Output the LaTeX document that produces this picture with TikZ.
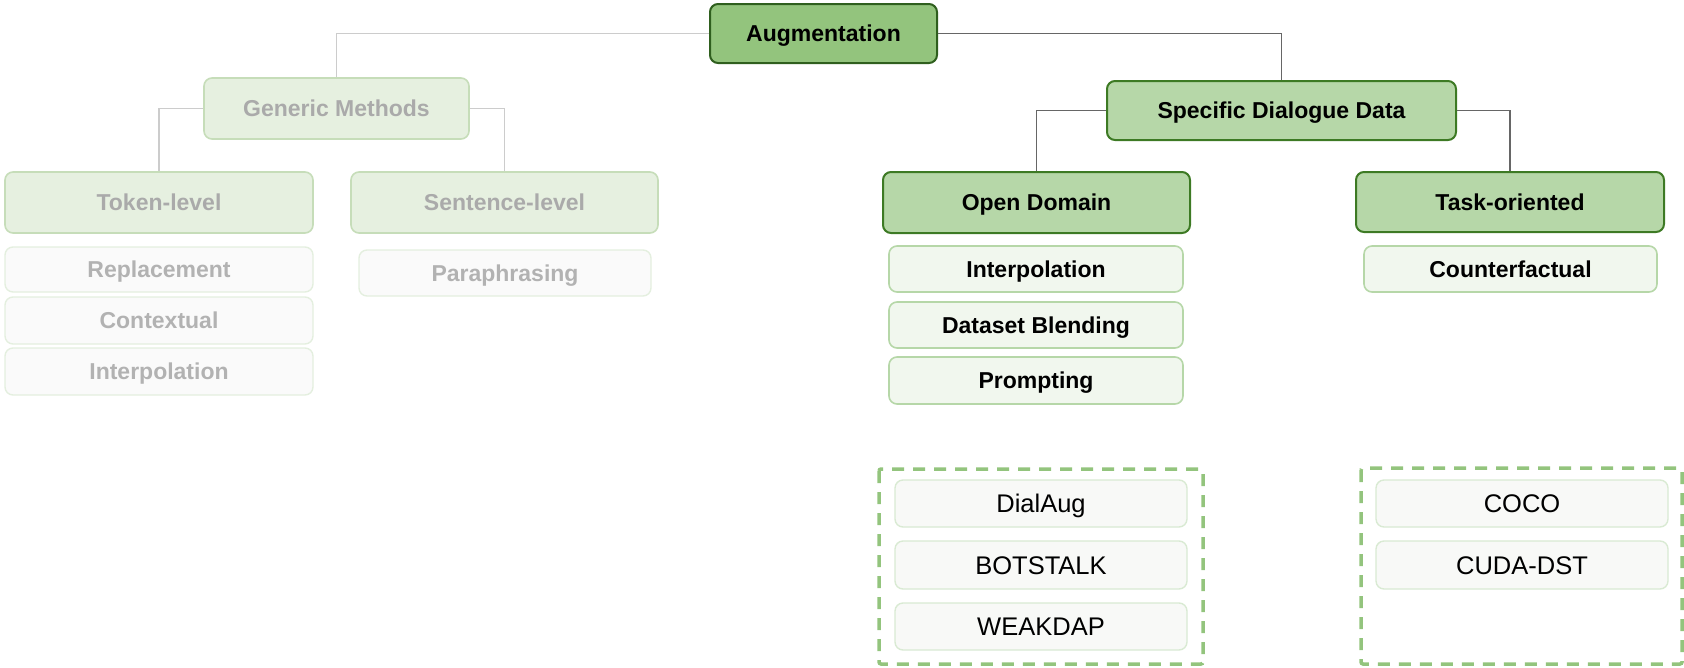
\documentclass[tikz,border=0pt]{standalone}
\usepackage{fontspec}
\setmainfont{Liberation Sans}
\usetikzlibrary{positioning}
\definecolor{augfill}{HTML}{93C47D}
\definecolor{augdraw}{HTML}{2F5F1E}
\definecolor{midfill}{HTML}{B6D7A8}
\definecolor{middraw}{HTML}{3D7A24}
\definecolor{subfill}{HTML}{F1F7EE}
\definecolor{subdraw}{HTML}{B6D7A8}
\definecolor{fadefill}{HTML}{E6F0E0}
\definecolor{fadedraw}{HTML}{C6DDB9}
\definecolor{fadetext}{HTML}{AAAAAA}
\definecolor{palefill}{HTML}{FAFAFA}
\definecolor{paledraw}{HTML}{E4EFDF}
\definecolor{datafill}{HTML}{F8F9F7}
\definecolor{datadraw}{HTML}{D9EAD3}
\definecolor{dashcol}{HTML}{93C47D}
\definecolor{lightline}{HTML}{CCCCCC}
\definecolor{darkline}{HTML}{666666}
\tikzset{
  box/.style={rectangle, rounded corners=8pt, align=center, inner sep=0pt,
    text height=16.5pt, text depth=0pt, font=\fontsize{23}{27}\selectfont\bfseries},
  augbox/.style={box, fill=augfill, draw=augdraw, line width=2pt},
  midbox/.style={box, fill=midfill, draw=middraw, line width=2pt},
  subbox/.style={box, fill=subfill, draw=subdraw, line width=1.6pt},
  fadebox/.style={box, fill=fadefill, draw=fadedraw, line width=1.6pt, text=fadetext},
  palebox/.style={box, fill=palefill, draw=paledraw, line width=1.4pt, text=fadetext!90!white},
  databox/.style={box, fill=datafill, draw=datadraw, line width=1.4pt, text height=18.3pt, font=\fontsize{25.5}{29}\selectfont},
  dashbox/.style={draw=dashcol, line width=3.5pt, dash pattern=on 12pt off 9pt, rounded corners=2pt},
  lightconn/.style={draw=lightline, line width=1.6pt},
  darkconn/.style={draw=darkline, line width=1.6pt},
}
\begin{document}
\begin{tikzpicture}[x=1pt,y=-1pt]
\useasboundingbox (0,0) rectangle (1684,667);
% top
\node[augbox, minimum width=227pt, minimum height=59pt] (aug) at (823.5,33.5) {Augmentation};
% generic (faded)
\node[fadebox, minimum width=265pt, minimum height=61pt] (gen) at (336.5,108.5) {Generic Methods};
\node[fadebox, minimum width=308pt, minimum height=61pt] (tok) at (159,202.5) {Token-level};
\node[fadebox, minimum width=307pt, minimum height=61pt] (sen) at (504.5,202.5) {Sentence-level};
\node[palebox, minimum width=308pt, minimum height=45pt] (rep) at (159,269.5) {Replacement};
\node[palebox, minimum width=308pt, minimum height=47pt] (ctx) at (159,320.5) {Contextual};
\node[palebox, minimum width=308pt, minimum height=47pt] (intA) at (159,371.5) {Interpolation};
\node[palebox, minimum width=292pt, minimum height=46pt] (par) at (505,273) {Paraphrasing};
% specific
\node[midbox, minimum width=349pt, minimum height=59pt] (sdd) at (1281.5,110.5) {Specific Dialogue Data};
\node[midbox, minimum width=307pt, minimum height=61pt] (od) at (1036.5,202.5) {Open Domain};
\node[midbox, minimum width=308pt, minimum height=60pt] (to) at (1510,202) {Task-oriented};
\node[subbox, minimum width=294pt, minimum height=46pt] (intB) at (1036,269) {Interpolation};
\node[subbox, minimum width=294pt, minimum height=46pt] (blend) at (1036,325) {Dataset Blending};
\node[subbox, minimum width=294pt, minimum height=47pt] (prm) at (1036,380.5) {Prompting};
\node[subbox, minimum width=293pt, minimum height=46pt] (cf) at (1510.5,269) {Counterfactual};
% dashed groups
\draw[dashbox] (879,469) rectangle (1203,664);
\draw[dashbox] (1361,468) rectangle (1682,664);
\node[databox, minimum width=292pt, minimum height=47pt] (dial) at (1041,503.5) {DialAug};
\node[databox, minimum width=292pt, minimum height=48pt] (bot) at (1041,565) {BOTSTALK};
\node[databox, minimum width=292pt, minimum height=47pt] (weak) at (1041,626.5) {WEAKDAP};
\node[databox, minimum width=292pt, minimum height=47pt] (coco) at (1522,503.5) {COCO};
\node[databox, minimum width=292pt, minimum height=48pt] (cuda) at (1522,565) {CUDA-DST};
% connectors
\draw[lightconn] (aug.west) -| (gen.north);
\draw[lightconn] (gen.west) -| (tok.north);
\draw[lightconn] (gen.east) -| (sen.north);
\draw[darkconn] (aug.east) -| (sdd.north);
\draw[darkconn] (sdd.west) -| (od.north);
\draw[darkconn] (sdd.east) -| (to.north);
\end{tikzpicture}
\end{document}
